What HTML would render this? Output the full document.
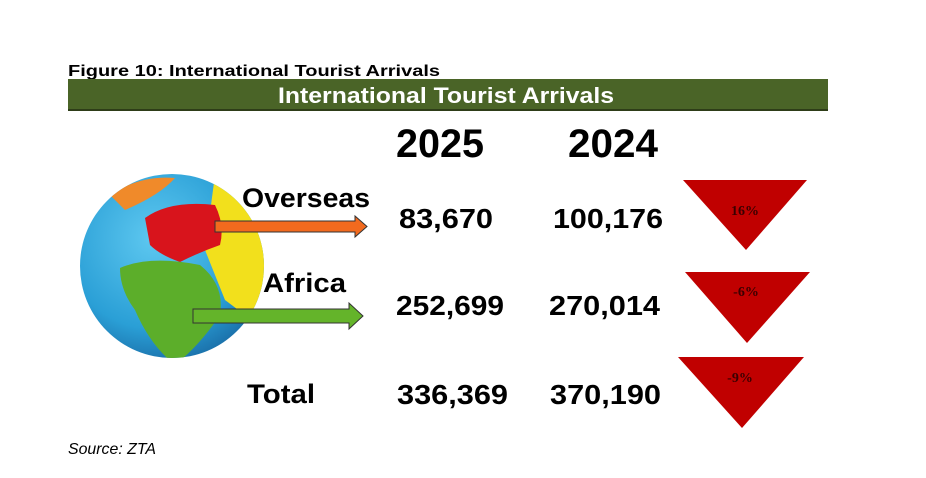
<!DOCTYPE html>
<html><head><meta charset="utf-8"><style>
html,body{margin:0;padding:0;background:#fff;width:926px;height:478px;overflow:hidden}
svg{display:block}
</style></head><body>
<svg width="926" height="478" viewBox="0 0 926 478" xmlns="http://www.w3.org/2000/svg" font-family="Liberation Sans, sans-serif">
<defs>
<radialGradient id="g" cx="0.4" cy="0.35" r="0.7">
<stop offset="0" stop-color="#5ec8f0"/><stop offset="0.7" stop-color="#2a9fd6"/><stop offset="1" stop-color="#1a6ea8"/>
</radialGradient>
<clipPath id="c"><circle cx="172" cy="266" r="92"/></clipPath>
</defs>
<text x="68" y="76" font-size="16" font-weight="bold" textLength="372" lengthAdjust="spacingAndGlyphs">Figure 10: International Tourist Arrivals</text>
<rect x="68" y="79" width="760" height="30" fill="#4a6427"/>
<rect x="68" y="109" width="760" height="2" fill="#2e3d18"/>
<text x="278" y="103" font-size="22" font-weight="bold" fill="#fff" textLength="336" lengthAdjust="spacingAndGlyphs">International Tourist Arrivals</text>
<text x="396" y="157" font-size="40" font-weight="bold" textLength="88" lengthAdjust="spacingAndGlyphs">2025</text>
<text x="568" y="157" font-size="40" font-weight="bold" textLength="90" lengthAdjust="spacingAndGlyphs">2024</text>
<!-- globe -->
<circle cx="172" cy="266" r="92" fill="url(#g)"/>
<g clip-path="url(#c)">
<path d="M215 175 Q260 190 270 250 L265 330 L225 300 L205 250 Z" fill="#f2e01c"/>
<path d="M145 218 Q170 200 215 205 Q225 225 220 245 Q200 252 180 262 Q160 255 150 245 Z" fill="#d8141c"/>
<path d="M120 268 Q150 255 200 265 Q225 285 220 315 Q200 345 175 365 Q150 345 135 310 Q120 290 120 268 Z" fill="#5cae2a"/>
<path d="M110 195 Q140 175 175 178 Q160 195 125 210 Z" fill="#f08a2a"/>
</g>
<!-- arrows -->
<polygon points="215,221 355,221 355,216 367,226.5 355,237 355,232 215,232" fill="#f26a1e" stroke="#333" stroke-width="1"/>
<polygon points="193,309 349,309 349,303 363,316 349,329 349,323 193,323" fill="#64b42a" stroke="#333" stroke-width="1"/>
<text x="242" y="207" font-size="27" font-weight="bold" textLength="128" lengthAdjust="spacingAndGlyphs">Overseas</text>
<text x="263" y="292" font-size="27" font-weight="bold" textLength="83" lengthAdjust="spacingAndGlyphs">Africa</text>
<text x="247" y="403" font-size="27" font-weight="bold" textLength="68" lengthAdjust="spacingAndGlyphs">Total</text>
<g font-size="28" font-weight="bold">
<text x="399" y="228" textLength="94" lengthAdjust="spacingAndGlyphs">83,670</text>
<text x="553" y="228" textLength="110" lengthAdjust="spacingAndGlyphs">100,176</text>
<text x="396" y="315" textLength="108" lengthAdjust="spacingAndGlyphs">252,699</text>
<text x="549" y="315" textLength="111" lengthAdjust="spacingAndGlyphs">270,014</text>
<text x="397" y="404" textLength="111" lengthAdjust="spacingAndGlyphs">336,369</text>
<text x="550" y="404" textLength="111" lengthAdjust="spacingAndGlyphs">370,190</text>
</g>
<polygon points="683,180 807,180 746,250" fill="#c00000"/>
<polygon points="685,272 810,272 747,343" fill="#c00000"/>
<polygon points="678,357 804,357 742,428" fill="#c00000"/>
<g font-family="Liberation Serif, serif" font-size="14" font-weight="bold" fill="#3a0000" text-anchor="middle">
<text x="745" y="215">16%</text>
<text x="746" y="296">-6%</text>
<text x="740" y="382">-9%</text>
</g>
<text x="68" y="454" font-size="16" font-style="italic" textLength="88" lengthAdjust="spacingAndGlyphs">Source: ZTA</text>
</svg>
</body></html>
